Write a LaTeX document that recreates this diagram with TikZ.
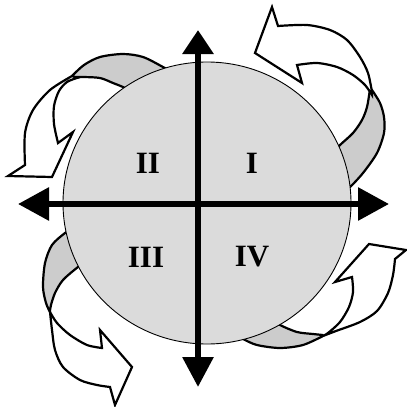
\documentclass[tikz,border=0pt]{standalone}
\usepackage{fontspec}
\setmainfont{Liberation Serif}
\usetikzlibrary{arrows.meta}

\definecolor{discgray}{gray}{0.86}
\definecolor{bandgray}{gray}{0.8}

\begin{document}
\begin{tikzpicture}[x=1pt, y=-1pt,
	band/.style={draw=black, line width=2.2pt, fill=bandgray, line join=round},
	sweep/.style={draw=black, line width=2.2pt, fill=white, line join=miter},
	quadlabel/.style={font=\fontsize{31}{36}\selectfont\bfseries},
	axis/.style={line width=6pt}]
	\useasboundingbox (0,0) rectangle (407,407);
	% back halves of the ribbons (the disc hides their ends)
	\draw[band] plot[smooth] coordinates {(172,72) (163,67) (143,57) (123,54) (100,57) (84,65) (72,76)}
		-- plot[smooth] coordinates {(72,77) (83,77) (100,78) (113,83) (125,88) (133,94)} -- cycle;
	\draw[band] plot[smooth] coordinates {(334,152) (340,145) (353,133) (362,120) (367,107) (370,89)}
		-- plot[smooth] coordinates {(372,90) (380,103) (384,117) (384,133) (377,153) (363,173) (350,187) (344,190)} -- cycle;
	\draw[band] plot[smooth] coordinates {(72,229) (65,233) (52,245) (45,263) (43,287) (46,303) (50,312)}
		-- plot[smooth] coordinates {(50,311) (51,305) (55,293) (63,280) (78,267) (86,262)} -- cycle;
	\draw[band] plot[smooth] coordinates {(236,335) (243,339) (257,345) (280,348) (303,345) (323,336)}
		-- plot[smooth] coordinates {(323,335) (313,334) (297,332) (280,325) (274,320)} -- cycle;
	% disc
	\draw[fill=discgray, line width=0.9pt] (207,203) ellipse [x radius=144, y radius=141];
	% front halves with heads
	\draw[sweep] plot[smooth] coordinates {(72,76) (50,90) (33,110) (25,133) (25,165)}
		-- (8,176) -- (52,177) -- (73,132) -- (58,143)
		-- plot[smooth] coordinates {(58,143) (54,124) (54,106) (59,91) (67,82) (77,78)} -- cycle;
	\draw[sweep] plot[smooth] coordinates {(372,92) (368,73) (360,57) (347,40) (330,30) (307,25) (278,26)}
		-- (272,7) -- (255,53) -- (302,83) -- (297,65)
		-- plot[smooth] coordinates {(297,65) (317,63) (337,67) (353,75) (365,85) (372,95)} -- cycle;
	\draw[sweep] plot[smooth] coordinates {(50,312) (52,330) (55,350) (63,367) (80,380) (97,385) (110,387)}
		-- (115,405) -- (132,367) -- (100,330) -- (102,348)
		-- plot[smooth] coordinates {(102,348) (87,345) (70,335) (57,323) (50,312)} -- cycle;
	\draw[sweep] plot[smooth] coordinates {(323,336) (336,331) (360,322) (377,311) (388,293) (393,275) (395,259)}
		-- (406,250) -- (369,244) -- (335,282) -- (352,277)
		-- plot[smooth] coordinates {(352,277) (353,292) (349,307) (340,322) (328,333) (323,336)} -- cycle;
	% axes
	\coordinate (north) at (198,30);
	\coordinate (south) at (198,387);
	\coordinate (west) at (18,204);
	\coordinate (east) at (389,204);
	\draw[axis, {Triangle[length=24pt, width=30pt]}-{Triangle[length=30pt, width=30pt]}] (north) -- (south);
	\draw[axis, {Triangle[length=31pt, width=32pt]}-{Triangle[length=31pt, width=32pt]}] (west) -- (east);
	% quadrant labels
	\foreach \nm/\lab/\x/\y in {one/I/252/163, two/II/148/163, three/III/146/257, four/IV/252/257}
		\node[quadlabel] (\nm) at (\x,\y) {\lab};
\end{tikzpicture}
\end{document}
